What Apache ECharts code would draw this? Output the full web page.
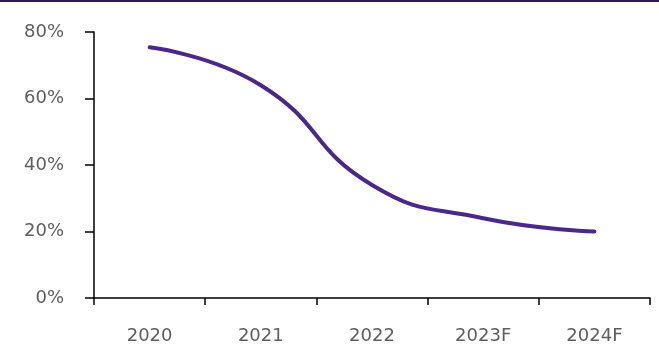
<!DOCTYPE html>
<html>
<head>
<meta charset="utf-8">
<script src="https://cdn.jsdelivr.net/npm/echarts@6/dist/echarts.min.js"></script>
<style>
  html, body { margin: 0; padding: 0; background: #fff; }
  #chart { width: 659px; height: 349px; }
</style>
</head>
<body>
<div id="chart"></div>
<script>
const years = ['2020', '2021', '2022', '2023F', '2024F'];
const share = [75.4, 64, 34, 24, 20];
const yTicks = [0, 20, 40, 60, 80];

const chart = echarts.init(document.getElementById('chart'));
chart.setOption({
    animation: false,
    graphic: [{
        type: 'rect',
        left: 0, top: 0,
        shape: { width: 659, height: 2 },
        style: { fill: '#2e1d4d' }
    }],
    grid: { left: 94, right: 9, top: 32, bottom: 51 },
    xAxis: {
        type: 'category',
        data: years,
        boundaryGap: true,
        axisLine: { lineStyle: { color: '#000', width: 1.5 } },
        axisTick: { show: true, length: 7, lineStyle: { color: '#000', width: 1.5 } },
        axisLabel: { color: '#5e5e5e', fontSize: 18, fontFamily: 'DejaVu Sans', margin: 29 }
    },
    yAxis: {
        type: 'value',
        min: yTicks[0],
        max: yTicks[yTicks.length - 1],
        interval: 20,
        splitLine: { show: false },
        axisLine: { show: true, lineStyle: { color: '#000', width: 1.5 } },
        axisTick: { show: true, length: 9, lineStyle: { color: '#000', width: 1.5 } },
        axisLabel: { color: '#5e5e5e', fontSize: 18, fontFamily: 'DejaVu Sans', margin: 30,
            formatter: v => v + '%' }
    },
    series: [{
        type: 'line',
        data: share,
        smooth: true,
        symbol: 'none',
        lineStyle: { color: '#4a2889', width: 4, cap: 'round' }
    }]
});
</script>
</body>
</html>
